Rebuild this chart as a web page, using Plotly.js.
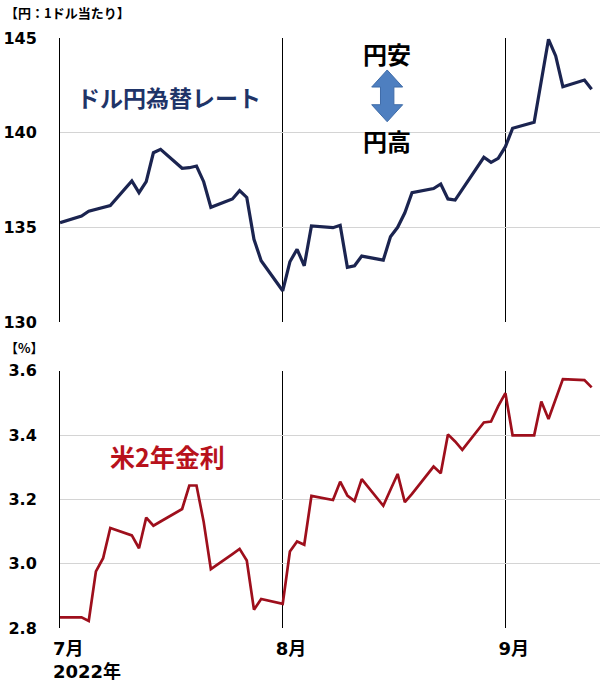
<!DOCTYPE html>
<html>
<head>
<meta charset="utf-8">
<script src="https://cdn.plot.ly/plotly-3.0.1.min.js"></script>
<style>html,body{margin:0;padding:0;background:#fff;}#chart{width:600px;height:684px;}</style>
</head>
<body>
<div id="chart"></div>
<script>
// USD/JPY (yen per dollar)
const fxDates = ['2022-07-01','2022-07-04','2022-07-05','2022-07-06','2022-07-07','2022-07-08',
  '2022-07-11','2022-07-12','2022-07-13','2022-07-14','2022-07-15',
  '2022-07-18','2022-07-19','2022-07-20','2022-07-21','2022-07-22',
  '2022-07-25','2022-07-26','2022-07-27','2022-07-28','2022-07-29',
  '2022-08-01','2022-08-02','2022-08-03','2022-08-04','2022-08-05',
  '2022-08-08','2022-08-09','2022-08-10','2022-08-11','2022-08-12',
  '2022-08-15','2022-08-16','2022-08-17','2022-08-18','2022-08-19',
  '2022-08-22','2022-08-23','2022-08-24','2022-08-25','2022-08-26',
  '2022-08-29','2022-08-30','2022-08-31','2022-09-01','2022-09-02',
  '2022-09-05','2022-09-06','2022-09-07','2022-09-08','2022-09-09',
  '2022-09-12','2022-09-13'];
const fxValues = [135.25,135.6,135.85,135.95,136.05,136.15,
  137.45,136.83,137.41,138.94,139.12,
  138.12,138.15,138.24,137.41,136.06,
  136.5,136.94,136.58,134.37,133.24,
  131.65,133.18,133.84,132.97,135.07,
  134.98,135.11,132.89,132.97,133.48,
  133.27,134.5,135.0,135.77,136.83,
  137.05,137.29,136.5,136.44,137.0,
  138.7,138.43,138.64,139.26,140.23,
  140.55,142.73,144.93,144.05,142.43,
  142.78,142.29];

// US 2-year yield (%)
const ustDates = ['2022-07-01','2022-07-04','2022-07-05','2022-07-06','2022-07-07','2022-07-08',
  '2022-07-11','2022-07-12','2022-07-13','2022-07-14','2022-07-15',
  '2022-07-18','2022-07-19','2022-07-20','2022-07-21','2022-07-22',
  '2022-07-25','2022-07-26','2022-07-27','2022-07-28','2022-07-29',
  '2022-08-01','2022-08-02','2022-08-03','2022-08-04','2022-08-05',
  '2022-08-08','2022-08-09','2022-08-10','2022-08-11','2022-08-12',
  '2022-08-15','2022-08-16','2022-08-17','2022-08-18','2022-08-19',
  '2022-08-22','2022-08-23','2022-08-24','2022-08-25','2022-08-26',
  '2022-08-29','2022-08-30','2022-08-31','2022-09-01','2022-09-02',
  '2022-09-05','2022-09-06','2022-09-07','2022-09-08','2022-09-09',
  '2022-09-12','2022-09-13'];
const ustValues = [2.833,2.833,2.822,2.976,3.017,3.111,
  3.088,3.048,3.143,3.118,3.131,
  3.170,3.243,3.243,3.13,2.983,
  3.03,3.046,3.010,2.857,2.890,
  2.875,3.038,3.069,3.059,3.211,
  3.198,3.255,3.212,3.195,3.263,
  3.180,3.23,3.279,3.191,3.217,
  3.302,3.281,3.402,3.38,3.354,
  3.439,3.442,3.49,3.530,3.399,
  3.399,3.504,3.450,3.51,3.574,
  3.571,3.548];

const monthTickVals = ['2022-07-01','2022-08-01','2022-09-01'];
const monthTickText = ['7月<br>2022年','8月','9月'];
const fxTicks = [130,135,140,145];
const ustTicks = [2.8,3.0,3.2,3.4,3.6];
const ustTickText = ['2.8','3.0','3.2','3.4','3.6'];

const W = 600, H = 684, ML = 60, MR = 0, MT = 38, MB = 56;
const PW = W - ML - MR, PH = H - MT - MB;
const px = x => (x - ML) / PW;
const py = y => (H - MB - y) / PH;

const NUMFONT = 'DejaVu Sans, Noto Sans CJK JP, sans-serif';
const JPFONT = 'Noto Sans CJK JP, sans-serif';

const traces = [
  {x: fxDates, y: fxValues, type: 'scatter', mode: 'lines', xaxis: 'x', yaxis: 'y',
   line: {color: '#1b2450', width: 3.2}},
  {x: ustDates, y: ustValues, type: 'scatter', mode: 'lines', xaxis: 'x2', yaxis: 'y2',
   line: {color: '#9e0f1c', width: 2.7}}
];

const xRange = ['2022-07-01', '2022-09-14 04:00'];
const xCommon = {
  type: 'date', range: xRange, tickmode: 'array', tickvals: monthTickVals,
  showgrid: true, gridcolor: '#000', gridwidth: 1, zeroline: false, showline: false,
  ticks: ''
};
const yCommon = {
  showgrid: true, gridcolor: '#d4d4d4', gridwidth: 1, zeroline: false,
  showline: true, linecolor: '#000', linewidth: 1, ticks: '',
  tickfont: {family: NUMFONT, size: 16, color: '#000', weight: 'bold'},
  ticklabelstandoff: 19
};

// block double arrow (pixel geometry converted to paper coordinates)
const ac = 387.2, aTop = 70, aBot = 121.7, hw = 15.5, sw = 6.7, hl = 17;
const pts = [[ac, aTop],[ac+hw, aTop+hl],[ac+sw, aTop+hl],[ac+sw, aBot-hl],[ac+hw, aBot-hl],
  [ac, aBot],[ac-hw, aBot-hl],[ac-sw, aBot-hl],[ac-sw, aTop+hl],[ac-hw, aTop+hl]];
const arrowPath = 'M ' + pts.map(p => px(p[0]).toFixed(4) + ',' + py(p[1]).toFixed(4)).join(' L ') + ' Z';

const layout = {
  width: W, height: H,
  margin: {l: ML, r: MR, t: MT, b: MB, pad: 0},
  paper_bgcolor: '#fff', plot_bgcolor: '#fff',
  showlegend: false, hovermode: false,
  xaxis: Object.assign({}, xCommon, {anchor: 'y', showticklabels: false}),
  xaxis2: Object.assign({}, xCommon, {anchor: 'y2', matches: 'x', ticktext: monthTickText,
    showticklabels: true, ticklabelposition: 'outside right', ticklabelstandoff: 8,
    ticklabelshift: -7,
    tickfont: {family: NUMFONT, size: 18, color: '#000', weight: 'bold'}}),
  yaxis: Object.assign({}, yCommon, {domain: [py(322), 1], range: [130, 145],
    tickmode: 'array', tickvals: fxTicks}),
  yaxis2: Object.assign({}, yCommon, {domain: [0, py(370.7)], range: [2.8, 3.6],
    tickmode: 'array', tickvals: ustTicks, ticktext: ustTickText}),
  shapes: [
    {type: 'path', xref: 'paper', yref: 'paper', path: arrowPath,
     fillcolor: '#4e7fc0', line: {color: '#3f6ca8', width: 1}}
  ],
  annotations: [
    {text: '【円：1ドル当たり】', xref: 'paper', yref: 'paper', x: px(3), y: py(13),
     xanchor: 'left', yanchor: 'middle', showarrow: false,
     font: {family: JPFONT, size: 13, color: '#000', weight: 'bold'}},
    {text: '【%】', xref: 'paper', yref: 'paper', x: px(3), y: py(347.5),
     xanchor: 'left', yanchor: 'middle', showarrow: false,
     font: {family: JPFONT, size: 13, color: '#000', weight: 'bold'}},
    {text: 'ドル円為替レート', xref: 'paper', yref: 'paper', x: px(75), y: py(97),
     xanchor: 'left', yanchor: 'middle', showarrow: false,
     font: {family: JPFONT, size: 23, color: '#1f3468', weight: 'bold'}},
    {text: '米2年金利', xref: 'paper', yref: 'paper', x: px(108), y: py(456),
     xanchor: 'left', yanchor: 'middle', showarrow: false,
     font: {family: JPFONT, size: 25, color: '#b8121c', weight: 'bold'}},
    {text: '円安', xref: 'paper', yref: 'paper', x: px(386.5), y: py(53),
     xanchor: 'center', yanchor: 'middle', showarrow: false,
     font: {family: JPFONT, size: 24, color: '#000', weight: 'bold'}},
    {text: '円高', xref: 'paper', yref: 'paper', x: px(386.5), y: py(140),
     xanchor: 'center', yanchor: 'middle', showarrow: false,
     font: {family: JPFONT, size: 24, color: '#000', weight: 'bold'}}
  ]
};

Plotly.newPlot('chart', traces, layout, {staticPlot: true, displayModeBar: false});
</script>
</body>
</html>
